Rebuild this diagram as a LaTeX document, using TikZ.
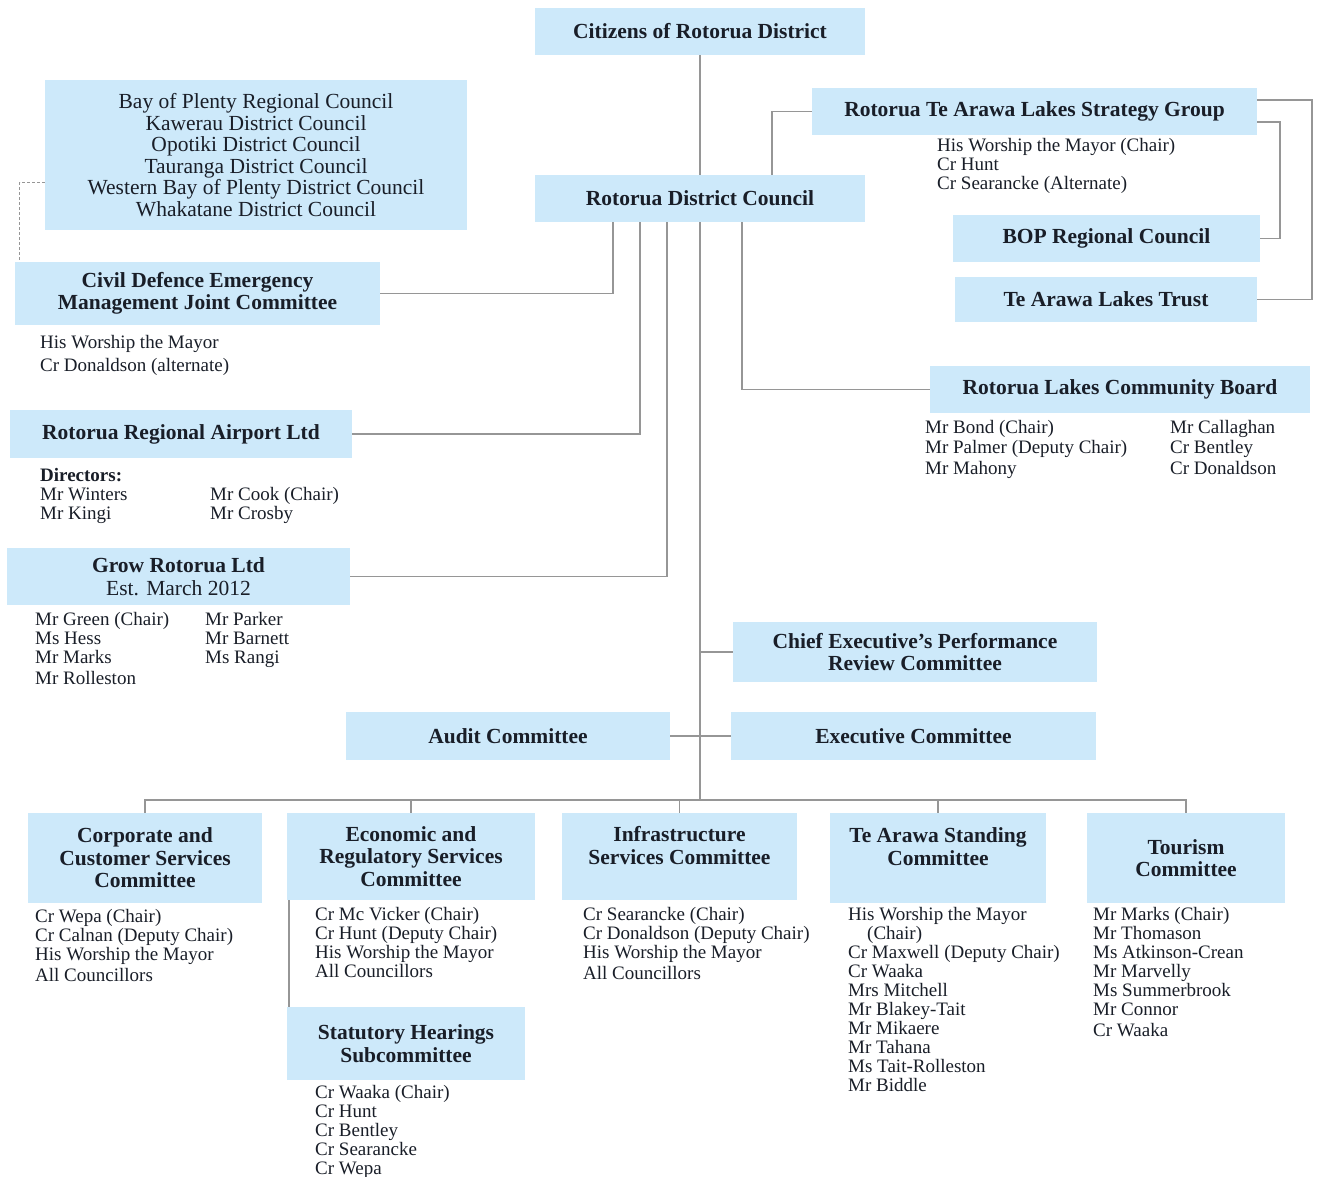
\documentclass[tikz,border=0pt]{standalone}
\usepackage{fontspec}
\setmainfont{Liberation Serif}
\usetikzlibrary{calc}
\definecolor{boxblue}{RGB}{205,233,250}
\definecolor{linegrey}{RGB}{150,150,150}
\definecolor{inkdark}{RGB}{25,30,40}
\tikzset{
  box/.style     = {fill=boxblue, draw=none, align=center, inner sep=2pt, text=inkdark,
                    font=\fontsize{21.5}{22.5}\selectfont\bfseries},
  mem/.style     = {anchor=north west, align=left, inner sep=0pt, text=inkdark,
                    font=\fontsize{19}{19}\selectfont},
  conn/.style    = {draw=linegrey, line width=1.6pt},
  dotconn/.style = {draw=linegrey, line width=1pt, densely dashed},
}

\begin{document}
\begin{tikzpicture}[x=1pt, y=-1pt]
  \fill[white] (0,0) rectangle (1320,1176);
  \useasboundingbox (0,0) rectangle (1320,1176);

  % top of the tree
  \node[box, minimum width=330pt, minimum height=47pt] (citizens) at (700,31.5) {Citizens of Rotorua District};
  \node[box, minimum width=330pt, minimum height=47pt] (rdc) at (700,198.5) {Rotorua District Council};
  \node[box, minimum width=422pt, minimum height=150pt, font=\fontsize{21.5}{21.6}\selectfont] (bopgroup) at (256,155)
    {Bay of Plenty Regional Council\\Kawerau District Council\\Opotiki District Council\\Tauranga District Council\\Western Bay of Plenty District Council\\Whakatane District Council};

  % left side
  \node[box, minimum width=365pt, minimum height=63pt] (cdem) at (197.5,293.5) {Civil Defence Emergency\\Management Joint Committee};
  \node[mem] (cdemmem) at (40,335) {His Worship the Mayor\\[4pt]Cr Donaldson (alternate)};
  \node[box, minimum width=342pt, minimum height=48pt] (airport) at (181,434) {Rotorua Regional Airport Ltd};
  \node[mem] (airportdir) at (40,468) {\textbf{Directors:}\\Mr Winters\\Mr Kingi};
  \node[mem] (airportdir2) at (210,487) {Mr Cook (Chair)\\Mr Crosby};
  \node[box, minimum width=343pt, minimum height=57pt] (grow) at (178.5,576.5) {Grow Rotorua Ltd\\\mdseries Est. March 2012};
  \node[mem] (growmem) at (35,612) {Mr Green (Chair)\\Ms Hess\\Mr Marks\\[2pt]Mr Rolleston};
  \node[mem] (growmem2) at (205,612) {Mr Parker\\Mr Barnett\\Ms Rangi};

  % right side
  \node[box, minimum width=445pt, minimum height=47pt] (strategy) at (1034.5,111.5) {Rotorua Te Arawa Lakes Strategy Group};
  \node[mem] (strategymem) at (937,138) {His Worship the Mayor (Chair)\\Cr Hunt\\Cr Searancke (Alternate)};
  \node[box, minimum width=307pt, minimum height=47pt] (bopreg) at (1106.5,238.5) {BOP Regional Council};
  \node[box, minimum width=302pt, minimum height=45pt] (lakestrust) at (1106,299.5) {Te Arawa Lakes Trust};
  \node[box, minimum width=380pt, minimum height=47pt] (commboard) at (1120,389.5) {Rotorua Lakes Community Board};
  \node[mem] (boardmem) at (925,420) {Mr Bond (Chair)\\[1pt]Mr Palmer (Deputy Chair)\\[2pt]Mr Mahony};
  \node[mem] (boardmem2) at (1170,420) {Mr Callaghan\\[1pt]Cr Bentley\\[2pt]Cr Donaldson};

  % middle
  \node[box, minimum width=364pt, minimum height=60pt] (ceperf) at (915,652) {Chief Executive's Performance\\Review Committee};
  \node[box, minimum width=324pt, minimum height=48pt] (audit) at (508,736) {Audit Committee};
  \node[box, minimum width=365pt, minimum height=48pt] (exec) at (913.5,736) {Executive Committee};

  % standing committees
  \node[box, minimum width=234pt, minimum height=90pt] (corporate) at (145,858) {Corporate and\\Customer Services\\Committee};
  \node[box, minimum width=248pt, minimum height=87pt] (economic) at (411,856.5) {Economic and\\Regulatory Services\\Committee};
  \node[box, minimum width=235pt, minimum height=87pt] (infra) at (679.5,856.5) {Infrastructure\\Services Committee\\~};
  \node[box, minimum width=216pt, minimum height=90pt] (tearawa) at (938,858) {Te Arawa Standing\\Committee\\~};
  \node[box, minimum width=198pt, minimum height=90pt] (tourism) at (1186,858) {Tourism\\Committee};
  \node[box, minimum width=238pt, minimum height=73pt] (hearings) at (406,1043.5) {Statutory Hearings\\Subcommittee};

  \node[mem] (corpmem) at (35,909) {Cr Wepa (Chair)\\Cr Calnan (Deputy Chair)\\His Worship the Mayor\\[2pt]All Councillors};
  \node[mem] (econmem) at (315,907) {Cr Mc Vicker (Chair)\\Cr Hunt (Deputy Chair)\\His Worship the Mayor\\All Councillors};
  \node[mem] (inframem) at (583,907) {Cr Searancke (Chair)\\Cr Donaldson (Deputy Chair)\\His Worship the Mayor\\[2pt]All Councillors};
  \node[mem] (tearawamem) at (848,907) {His Worship the Mayor\\\hspace*{1em}(Chair)\\Cr Maxwell (Deputy Chair)\\Cr Waaka\\Mrs Mitchell\\Mr Blakey-Tait\\Mr Mikaere\\Mr Tahana\\Ms Tait-Rolleston\\Mr Biddle};
  \node[mem] (tourismmem) at (1093,907) {Mr Marks (Chair)\\Mr Thomason\\Ms Atkinson-Crean\\Mr Marvelly\\Ms Summerbrook\\Mr Connor\\[2pt]Cr Waaka};
  \node[mem] (hearingsmem) at (315,1085) {Cr Waaka (Chair)\\Cr Hunt\\Cr Bentley\\Cr Searancke\\Cr Wepa};

  % connectors
  \coordinate (bus) at (700,800);
  \draw[conn] (citizens.south) -- (rdc.north);
  \draw[dotconn] ($(bopgroup.south west)+(0,-48)$) -| ($(cdem.north west)+(5,0)$);
  \draw[conn] (cdem.east) -| ($(rdc.south west)+(78,0)$);
  \draw[conn] (airport.east) -| ($(rdc.south west)+(105,0)$);
  \draw[conn] (grow.east) -| ($(rdc.south west)+(132,0)$);
  \draw[conn] ($(rdc.south west)+(207,0)$) |- (commboard.west);
  \draw[conn] ($(rdc.north west)+(237,0)$) |- (strategy.west);
  \draw[conn] ($(strategy.north east)+(0,12)$) -- ++(55,0) |- (lakestrust.east);
  \draw[conn] ($(strategy.south east)+(0,-13)$) -- ++(23,0) |- (bopreg.east);
  \draw[conn] (rdc.south) -- (bus);
  \draw[conn] (ceperf.west) -- (ceperf.west -| rdc.south);
  \draw[conn] (audit.east) -- (exec.west);
  \draw[conn] (corporate.north) -- ++(0,-13) -| (tourism.north);
  \foreach \b in {economic,infra,tearawa}
    \draw[conn] (\b.north) -- ++(0,-13);
  \draw[conn] ($(economic.south west)+(2,0)$) -- ($(hearings.north west)+(2,0)$);
\end{tikzpicture}
\end{document}
